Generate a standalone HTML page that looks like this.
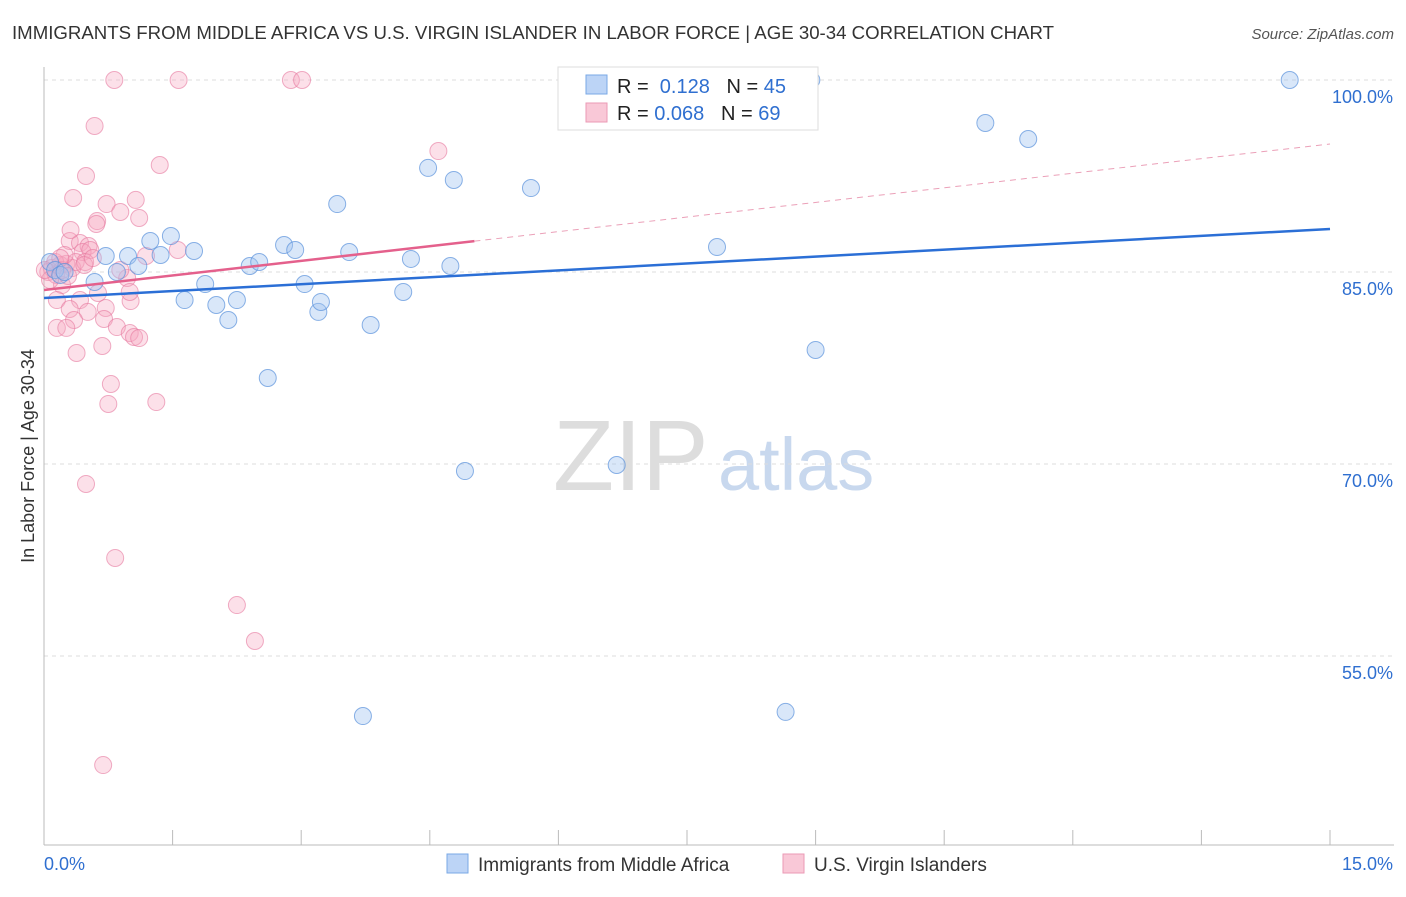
<!DOCTYPE html>
<html><head><meta charset="utf-8"><style>
body{margin:0;background:#fff;font-family:"Liberation Sans",sans-serif}
svg text{font-family:"Liberation Sans",sans-serif}
</style></head><body>
<svg id="chart" width="1406" height="892" viewBox="0 0 1406 892">
<text x="12" y="39" font-size="18" fill="#333" textLength="1042" lengthAdjust="spacingAndGlyphs">IMMIGRANTS FROM MIDDLE AFRICA VS U.S. VIRGIN ISLANDER IN LABOR FORCE | AGE 30-34 CORRELATION CHART</text>
<text x="1394" y="39" font-size="15" fill="#555" text-anchor="end" font-style="italic">Source: ZipAtlas.com</text>
<g>
<text x="553" y="490" font-size="100" fill="#ddd" font-family="Liberation Serif">ZIP</text>
<text x="718" y="490" font-size="74" fill="#c8d8ee">atlas</text>
</g>
<g id="grid"></g>
<g id="axes"></g>
<g id="marks"></g>
<text transform="translate(34,456) rotate(-90)" font-size="18" fill="#333" text-anchor="middle">In Labor Force | Age 30-34</text>
<g>
<rect x="558" y="67" width="260" height="63" fill="#fff" stroke="#ddd"/>
<rect x="586" y="75" width="21" height="19" fill="#bcd4f6" stroke="#7aa8e6"/>
<rect x="586" y="103" width="21" height="19" fill="#f9c8d7" stroke="#eb9ab5"/>
<text x="617" y="93" font-size="20" fill="#222">R = <tspan fill="#2f6fd0">&#160;0.128</tspan>&#160;&#160;&#160;N = <tspan fill="#2f6fd0">45</tspan></text>
<text x="617" y="120" font-size="20" fill="#222">R = <tspan fill="#2f6fd0">0.068</tspan>&#160;&#160;&#160;N = <tspan fill="#2f6fd0">69</tspan></text>
</g>
<g>
<rect x="447" y="854" width="21" height="19" fill="#bcd4f6" stroke="#7aa8e6"/>
<text x="478" y="871" font-size="19" fill="#333">Immigrants from Middle Africa</text>
<rect x="783" y="854" width="21" height="19" fill="#f9c8d7" stroke="#eb9ab5"/>
<text x="814" y="871" font-size="19" fill="#333">U.S. Virgin Islanders</text>
</g>
</svg>
<script>
const yTicks=[100,85,70,55];
const xTickLabels=["0.0%","15.0%"];
const blueX=[0.07,0.13,0.19,0.24,0.59,0.72,0.85,0.98,1.10,1.24,1.36,1.48,1.64,1.75,1.88,2.01,2.15,2.25,2.40,2.51,2.61,2.80,2.93,3.04,3.20,3.23,3.42,3.56,3.81,4.19,4.28,4.48,4.74,4.78,4.91,5.68,6.68,3.72,7.85,8.65,8.95,9.00,10.98,11.48,14.53];
const blueY=[85.78,85.16,84.77,85.0,84.22,86.25,85.0,86.25,85.47,87.42,86.33,87.81,82.81,86.64,84.06,82.42,81.25,82.81,85.47,85.78,76.72,87.11,86.72,84.06,81.88,82.66,90.31,86.56,80.86,83.44,86.02,93.13,85.47,92.19,69.45,91.56,69.92,50.31,86.95,50.63,100,78.91,96.64,95.39,100];
const pinkX=[0.82,1.57,2.88,3.01,0.59,1.35,0.49,0.34,0.73,1.07,0.89,1.11,0.62,0.61,0.30,0.42,0.52,0.45,0.54,1.56,4.60,0.97,0.19,0.09,0.05,0.14,0.26,0.33,0.37,0.48,0.21,0.15,0.42,0.30,0.51,0.35,0.15,0.26,1.01,0.72,0.70,0.85,1.00,1.05,1.11,0.68,0.38,0.78,0.75,1.31,0.49,0.83,2.25,2.46,0.69,0.47,0.57,0.13,0.21,0.63,1.00,1.19,0.89,0.24,0.31,0.07,0.19,0.28,0.01];
const pinkY=[100,100,100,100,96.41,93.36,92.5,90.78,90.31,90.63,89.69,89.22,88.98,88.75,87.42,87.27,87.03,86.56,86.72,86.72,94.45,84.53,85.55,85.31,85.0,84.77,85.63,85.31,85.78,85.78,83.98,82.81,82.81,82.11,81.88,81.25,80.63,80.63,82.73,82.19,81.33,80.70,80.23,79.92,79.84,79.22,78.67,76.25,74.69,74.84,68.44,62.66,58.98,56.17,46.48,85.55,86.09,85.78,85.16,83.36,83.44,86.25,85.16,86.33,88.28,84.38,86.09,84.69,85.16];
const blueTrend=[82.97,88.36];
const pinkTrend=[83.59,95.0];
const pinkSolidEnd=5.02;
const NS="http://www.w3.org/2000/svg";
const X=v=>44+v/15*1286;
const Y=v=>80+(100-v)*12.8;
function mk(t,a,p){const e=document.createElementNS(NS,t);for(const k in a)e.setAttribute(k,a[k]);p.appendChild(e);return e;}
const grid=document.getElementById('grid'),axes=document.getElementById('axes'),marks=document.getElementById('marks');
yTicks.forEach(t=>{
 const l=mk('line',{x1:44,x2:1394,y1:Y(t),y2:Y(t),stroke:'#ddd','stroke-dasharray':'4,4'},grid);
 
 
 const tx=mk('text',{x:1393,y:Y(t)+23,'font-size':18,fill:'#2f6fd0','text-anchor':'end'},axes);
 tx.textContent=t.toFixed(1)+'%';
 
 
});
const ya=mk('line',{x1:44,x2:44,y1:67,y2:845,stroke:'#bbb'},axes);


const xa=mk('line',{x1:44,x2:1394,y1:845,y2:845,stroke:'#bbb'},axes);


for(let i=0;i<=10;i++){const t=mk('line',{x1:X(i*1.5),x2:X(i*1.5),y1:830,y2:845,stroke:'#bbb'},axes);
 
 }
[[xTickLabels[0],X(0),'start'],[xTickLabels[1],1393,'end']].forEach(([s,x,a])=>{
 const t=mk('text',{x:x,y:870,'font-size':18,fill:'#2f6fd0','text-anchor':a},axes);t.textContent=s;
 
 });
pinkX.forEach((v,i)=>{const c=mk('circle',{cx:X(v),cy:Y(pinkY[i]),r:8.5,fill:'rgba(245,165,192,0.35)',stroke:'rgba(230,120,158,0.6)','stroke-width':1},marks);
 
 });
blueX.forEach((v,i)=>{const c=mk('circle',{cx:X(v),cy:Y(blueY[i]),r:8.5,fill:'rgba(160,196,240,0.4)',stroke:'rgba(90,145,220,0.7)','stroke-width':1},marks);
 
 });
const bl=mk('line',{x1:X(0),y1:Y(blueTrend[0]),x2:X(15),y2:Y(blueTrend[1]),stroke:'#2b6fd6','stroke-width':2.5},marks);


const pe=pinkTrend[0]+(pinkTrend[1]-pinkTrend[0])*pinkSolidEnd/15;
const pl=mk('line',{x1:X(0),y1:Y(pinkTrend[0]),x2:X(pinkSolidEnd),y2:Y(pe),stroke:'#e4608c','stroke-width':2.5},marks);


const pd=mk('line',{x1:X(pinkSolidEnd),y1:Y(pe),x2:X(15),y2:Y(pinkTrend[1]),stroke:'#eba0b8','stroke-width':1,'stroke-dasharray':'6,5'},marks);


</script>
</body></html>
